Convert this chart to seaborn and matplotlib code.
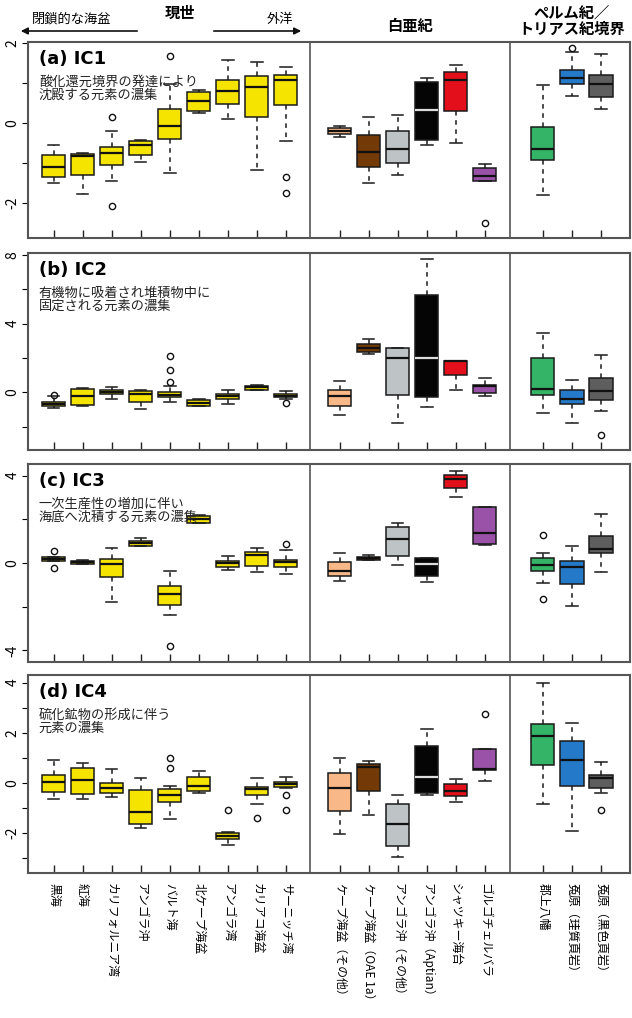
import seaborn as sns
import pandas as pd
import matplotlib.pyplot as plt
from matplotlib.ticker import FixedLocator

plt.rcParams['font.family'] = ['Noto Sans CJK JP', 'DejaVu Sans']

sites = ['黒海', '紅海', 'カリフォルニア湾', 'アンゴラ沖', 'バルト海', '北ケープ海盆',
         'アンゴラ湾', 'カリアコ海盆', 'サーニッチ湾',
         'ケープ海盆（その他）', 'ケープ海盆（OAE 1a）', 'アンゴラ沖（その他）',
         'アンゴラ沖（Aptian）', 'シャツキー海台', 'ゴルゴチェルバラ',
         '郡上八幡', '菟原（珪質頁岩）', '菟原（黒色頁岩）']
positions = [0, 1, 2, 3, 4, 5, 6, 7, 8,
             9.85, 10.85, 11.85, 12.85, 13.85, 14.85,
             16.85, 17.85, 18.85]
colors = ['#F5E400'] * 9 + ['#F8B888', '#733A08', '#BEC4C5', '#050505', '#E3101C', '#9A52A8',
                            '#34B467', '#2479C8', '#5E5E5E']

# (a) IC1
a_lo = [-1.51, -1.77, -1.44, -0.98, -1.25, 0.24, 0.10, -1.17, -0.46, -0.34, -1.50, -1.31, -0.56, -0.50, -1.45, -1.79, 0.67, 0.35]
a_q1 = [-1.35, -1.31, -1.06, -0.79, -0.40, 0.31, 0.48, 0.14, 0.46, -0.27, -1.11, -1.00, -0.42, 0.29, -1.45, -0.93, 0.97, 0.65]
a_med = [-1.09, -0.83, -0.75, -0.54, -0.07, 0.55, 0.79, 0.90, 1.06, -0.20, -0.72, -0.64, 0.33, 1.07, -1.33, -0.64, 1.12, 0.98]
a_q3 = [-0.81, -0.78, -0.59, -0.44, 0.35, 0.77, 1.08, 1.17, 1.19, -0.13, -0.29, -0.20, 1.03, 1.27, -1.12, -0.11, 1.31, 1.20]
a_hi = [-0.56, -0.75, -0.21, -0.42, 0.98, 0.83, 1.58, 1.52, 1.40, -0.07, 0.14, 0.21, 1.12, 1.45, -1.03, 0.95, 1.78, 1.73]
a_out = [[], [], [0.16, -2.07], [], [1.67], [], [], [], [-1.35, -1.74],
         [], [], [], [], [], [-2.49], [], [1.86], []]

# (b) IC2
b_lo = [-0.91, -0.76, -0.39, -0.95, -0.54, -0.76, -0.64, 0.14, -0.39, -1.30, 2.21, -1.75, -0.87, 0.17, -0.23, -1.18, -1.75, -1.09]
b_q1 = [-0.80, -0.72, -0.10, -0.56, -0.29, -0.76, -0.35, 0.17, -0.29, -0.76, 2.35, -0.16, -0.29, 0.99, -0.04, -0.16, -0.66, -0.45]
b_med = [-0.68, -0.23, 0.02, -0.10, -0.14, -0.62, -0.19, 0.29, -0.19, -0.23, 2.58, 2.00, 1.98, 1.81, 0.38, 0.21, -0.37, 0.10]
b_q3 = [-0.56, 0.21, 0.16, 0.06, 0.04, -0.45, -0.08, 0.39, -0.10, 0.17, 2.82, 2.58, 5.69, 1.81, 0.41, 2.00, 0.16, 0.87]
b_hi = [-0.22, 0.25, 0.29, 0.12, 0.39, -0.35, 0.12, 0.45, 0.06, 0.64, 3.13, 2.58, 7.73, 1.81, 0.82, 3.44, 0.74, 2.19]
b_out = [[-0.12], [], [], [], [2.10, 1.28, 0.60], [], [], [], [-0.62],
         [], [], [], [], [], [], [], [], [-2.47]]

# (c) IC3
c_lo = [-0.23, -0.03, -1.80, 0.76, -2.37, 1.83, -0.31, -0.40, -0.50, -0.81, 0.15, -0.09, -0.85, 3.02, 0.84, -0.92, -1.95, -0.43]
c_q1 = [0.08, -0.03, -0.66, 0.79, -1.92, 1.83, -0.18, -0.12, -0.18, -0.60, 0.15, 0.32, -0.60, 3.42, 0.87, -0.35, -0.96, 0.44]
c_med = [0.18, 0.06, -0.05, 0.92, -1.44, 2.02, 0.02, 0.38, 0.03, -0.35, 0.21, 1.10, -0.05, 3.86, 1.37, -0.08, -0.20, 0.66]
c_q3 = [0.27, 0.11, 0.17, 1.01, -1.04, 2.17, 0.11, 0.49, 0.15, 0.05, 0.26, 1.65, 0.21, 4.02, 2.58, 0.21, 0.09, 1.25]
c_hi = [0.56, 0.14, 0.69, 1.16, -0.38, 2.21, 0.31, 0.67, 0.61, 0.44, 0.37, 1.83, 0.21, 4.21, 2.58, 0.47, 0.76, 2.23]
c_out = [[], [], [], [], [-3.79], [], [], [], [0.85],
         [], [], [], [], [], [], [1.30, -1.63], [], []]

# (d) IC4
d_lo = [-0.64, -0.66, -0.58, -1.78, -1.43, -0.41, -2.47, -0.85, -0.21, -2.03, -1.29, -2.96, -0.48, -0.77, 0.09, -0.85, -1.91, -0.41]
d_q1 = [-0.35, -0.45, -0.42, -1.65, -0.77, -0.32, -2.24, -0.48, -0.16, -1.12, -0.32, -2.52, -0.39, -0.53, 0.50, 0.72, -0.12, -0.19]
d_med = [0.03, 0.12, -0.19, -1.14, -0.48, -0.11, -2.10, -0.24, -0.03, -0.21, 0.62, -1.63, 0.25, -0.31, 0.56, 1.87, 0.90, 0.19]
d_q3 = [0.31, 0.61, 0.00, -0.28, -0.25, 0.23, -2.00, -0.15, 0.03, 0.39, 0.77, -0.85, 1.47, -0.05, 1.34, 2.35, 1.66, 0.33]
d_hi = [0.90, 0.78, 0.54, 0.21, -0.11, 0.48, -1.94, 0.19, 0.23, 1.01, 0.89, -0.49, 2.16, 0.17, 1.34, 4.00, 2.39, 0.85]
d_out = [[], [], [], [], [1.01, 0.58], [], [-1.09], [-1.38], [-0.50, -1.09],
         [], [], [], [], [], [2.74], [], [], [-1.09]]

panels = [
    ('(a) IC1', '酸化還元境界の発達により\n沈殿する元素の濃集', a_lo, a_q1, a_med, a_q3, a_hi, a_out,
     (-2.87, 2.02), [-2, -1, 0, 1, 2], [-2, 0, 2], (42, 238)),
    ('(b) IC2', '有機物に吸着され堆積物中に\n固定される元素の濃集', b_lo, b_q1, b_med, b_q3, b_hi, b_out,
     (-3.34, 8.1), [-2, 0, 2, 4, 6, 8], [0, 4, 8], (253, 450)),
    ('(c) IC3', '一次生産性の増加に伴い\n海底へ沈積する元素の濃集', c_lo, c_q1, c_med, c_q3, c_hi, c_out,
     (-4.53, 4.53), [-4, -2, 0, 2, 4], [-4, 0, 4], (464, 662)),
    ('(d) IC4', '硫化鉱物の形成に伴う\n元素の濃集', d_lo, d_q1, d_med, d_q3, d_hi, d_out,
     (-3.59, 4.3), [-3, -2, -1, 0, 1, 2, 3, 4], [-2, 0, 2, 4], (675, 873)),
]


def build_frame(lo, q1, med, q3, hi, out):
    rows = []
    for i, s in enumerate(sites):
        vals = [lo[i]] + [q1[i]] * 10 + [med[i]] * 11 + [q3[i]] * 10 + [hi[i]] + out[i]
        for v in vals:
            rows.append({'pos': positions[i], 'site': s, 'value': v})
    return pd.DataFrame(rows)


W, H = 632, 1018
fig = plt.figure(figsize=(W / 100, H / 100), dpi=100)
palette = dict(zip(sites, colors))
spine_col = '#555555'

for k, (title, desc, lo, q1, med, q3, hi, out, ylim, yt, ylab, (top, bot)) in enumerate(panels):
    ax = fig.add_axes([28 / W, 1 - bot / H, 602 / W, (bot - top) / H])
    df = build_frame(lo, q1, med, q3, hi, out)
    sns.boxplot(data=df, x='pos', y='value', hue='site', palette=palette, native_scale=True,
                dodge=False, legend=False, width=0.8, saturation=1,
                linecolor='#1a1a1a', linewidth=1.1,
                whiskerprops={'linestyle': (0, (3, 3))},
                medianprops={'linewidth': 1.6, 'color': '#111111'},
                flierprops={'marker': 'o', 'markerfacecolor': 'none', 'markeredgecolor': '#111111',
                            'markersize': 4.5, 'markeredgewidth': 1},
                ax=ax)
    # white median line for the black box
    bi = sites.index('アンゴラ沖（Aptian）')
    for ln in ax.lines:
        xd, yd = ln.get_xdata(), ln.get_ydata()
        if len(xd) == 2 and yd[0] == yd[1] and abs(yd[0] - med[bi]) < 1e-9 \
                and abs((xd[0] + xd[1]) / 2 - positions[bi]) < 0.05:
            ln.set_color('#dddddd')
    ax.set_xlim(-0.88, 19.85)
    ax.set_ylim(*ylim)
    ax.axvline(8.83, color=spine_col, lw=1.2)
    ax.axvline(15.72, color=spine_col, lw=1.2)
    for sp in ax.spines.values():
        sp.set_color(spine_col)
        sp.set_linewidth(1.5)
    ax.yaxis.set_major_locator(FixedLocator(yt))
    ax.set_yticklabels([str(t) if t in ylab else '' for t in yt], rotation=90, va='center', fontsize=10)
    ax.tick_params(axis='y', direction='out', length=4, pad=2)
    ax.set_xticks(positions)
    ax.tick_params(axis='x', direction='in', length=6, width=1, color='#222222')
    if k == 3:
        ax.set_xticklabels(sites, rotation=-90, fontsize=8.6, va='top', ha='center')
        ax.tick_params(axis='x', pad=7)
    else:
        ax.set_xticklabels([])
    ax.set_xlabel('')
    ax.set_ylabel('')
    ax.text(0.018, 0.96, title, transform=ax.transAxes, fontsize=13, fontweight='bold',
            va='top', ha='left', family='DejaVu Sans')
    ax.text(0.018, 0.83, desc, transform=ax.transAxes, fontsize=9.5, va='top', ha='left',
            linespacing=1.0, color='#222222')

fig.text(180 / W, 1 - 13 / H, '現世', fontsize=11, fontweight='bold', ha='center', va='center')
fig.text(410 / W, 1 - 26 / H, '白亜紀', fontsize=11, fontweight='bold', ha='center', va='center')
fig.text(572 / W, 1 - 21 / H, 'ペルム紀／\nトリアス紀境界', fontsize=11, fontweight='bold',
         ha='center', va='center', linespacing=1.0)
fig.text(72 / W, 1 - 19 / H, '閉鎖的な海盆', fontsize=9.5, ha='center', va='center')
fig.text(280 / W, 1 - 19 / H, '外洋', fontsize=9.5, ha='center', va='center')
fig.add_artist(plt.Annotation('', xy=(18 / W, 1 - 31 / H), xytext=(140 / W, 1 - 31 / H),
                              xycoords='figure fraction',
                              arrowprops=dict(arrowstyle='-|>', color='#111111', lw=1.2)))
fig.add_artist(plt.Annotation('', xy=(304 / W, 1 - 31 / H), xytext=(211 / W, 1 - 31 / H),
                              xycoords='figure fraction',
                              arrowprops=dict(arrowstyle='-|>', color='#111111', lw=1.2)))

fig.savefig('out.png', dpi=100)
